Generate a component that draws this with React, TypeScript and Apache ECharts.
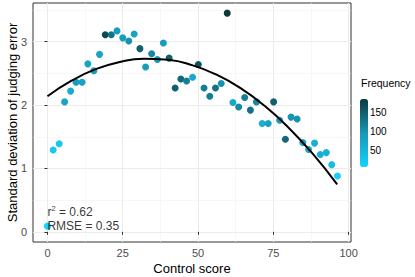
import React, { useEffect, useRef } from "react";
import * as echarts from "echarts";

// Control score (x), SD of judging error (y), frequency (colour)
const controlScore = [0, 1.9, 3.9, 5.7, 7.7, 9.5, 11.5, 13.4, 15.4, 17.3, 19.2, 21.2, 23.1, 25.0, 27.0, 28.8, 30.7, 32.6, 34.6, 36.5, 38.5, 40.4, 42.4, 44.3, 46.2, 48.2, 50.1, 52.0, 53.9, 55.8, 57.7, 59.7, 61.6, 63.5, 65.5, 67.4, 69.4, 71.3, 73.3, 75.1, 77.1, 79.0, 80.9, 82.9, 84.8, 86.7, 88.7, 90.6, 92.6, 94.4, 96.3];
const sdError = [0.09, 1.29, 1.39, 2.05, 2.22, 2.36, 2.36, 2.65, 2.54, 2.80, 3.11, 3.11, 3.17, 3.06, 3.01, 3.12, 2.89, 2.60, 2.81, 2.72, 2.98, 2.74, 2.27, 2.41, 2.38, 2.44, 2.64, 2.27, 2.14, 2.27, 2.34, 3.45, 2.04, 1.97, 2.12, 1.92, 2.05, 1.71, 1.71, 2.05, 1.76, 1.46, 1.81, 1.78, 1.41, 1.30, 1.40, 1.22, 1.25, 1.06, 0.88];
const frequency = [8, 25, 25, 75, 65, 90, 80, 75, 90, 75, 170, 130, 85, 85, 100, 80, 150, 85, 110, 90, 90, 150, 150, 140, 120, 70, 160, 120, 120, 130, 100, 185, 70, 110, 120, 130, 110, 60, 80, 150, 90, 140, 100, 100, 80, 70, 60, 60, 55, 40, 15];

// Fitted curve
const curveX = [0, 8, 16, 24, 32, 40, 48, 56, 64, 72, 80, 88, 96.2];
const curveY = [2.14, 2.385, 2.566, 2.68, 2.73, 2.713, 2.63, 2.483, 2.27, 1.992, 1.647, 1.237, 0.75];

const xTicks = [0, 25, 50, 75, 100];
const xMinor = [12.5, 37.5, 62.5, 87.5];
const yTicks = [0, 1, 2, 3];
const yMinor = [0.5, 1.5, 2.5, 3.5];

const freqMin = 7;
const freqMax = 185;
const legendTicks = [50, 100, 150];

const annotationX = [0, 0];
const annotationY = [0.316, 0.09];
const annotationText = ["r{sup|2} = 0.62", "RMSE = 0.35"];

const FONT = "'Liberation Sans', Arial, Helvetica, sans-serif";

export default function App() {
  const ref = useRef<HTMLDivElement>(null);
  useEffect(() => {
    if (!ref.current) return;
    const chart = echarts.init(ref.current, undefined, { renderer: "svg" });
    const barTop = 99;
    const barH = 68;
    const points = controlScore.map((x, i) => [x, sdError[i], frequency[i]]);
    const curve = curveX.map((x, i) => [x, curveY[i]]);
    const hidden = {
      axisLine: { show: false },
      axisTick: { show: false },
      axisLabel: { show: false },
    };
    chart.setOption({
      animation: false,
      backgroundColor: "#ffffff",
      textStyle: { fontFamily: FONT },
      grid: {
        left: 33,
        top: 3,
        width: 318,
        height: 239,
        containLabel: false,
        outerBoundsMode: "none",
        show: true,
        borderColor: "#333333",
        borderWidth: 1,
        backgroundColor: "#ffffff",
      },
      xAxis: [
        {
          type: "value",
          min: -4.8,
          max: 100.8,
          name: "Control score",
          nameLocation: "middle",
          nameGap: 20,
          nameMoveOverlap: false,
          nameTextStyle: { fontSize: 13, color: "#000", fontFamily: FONT },
          axisLine: { show: false },
          axisTick: { show: true, length: 3, lineStyle: { color: "#333" }, customValues: xTicks },
          axisLabel: { fontSize: 11, color: "#4d4d4d", margin: 5, fontFamily: FONT, customValues: xTicks },
          splitLine: { show: true, lineStyle: { color: "#ebebeb", width: 1 } },
        },
        {
          type: "value",
          min: -4.8,
          max: 100.8,
          position: "top",
          ...hidden,
          axisTick: { show: false, customValues: xMinor },
          splitLine: { show: true, lineStyle: { color: "#f2f2f2", width: 0.6 } },
        },
      ],
      yAxis: [
        {
          type: "value",
          min: -0.16,
          max: 3.61,
          name: "Standard deviation of judging error",
          nameLocation: "middle",
          nameGap: 14,
          nameMoveOverlap: false,
          nameTextStyle: { fontSize: 13, color: "#000", fontFamily: FONT },
          axisLine: { show: false },
          axisTick: { show: true, length: 3, lineStyle: { color: "#333" }, customValues: yTicks },
          axisLabel: { fontSize: 11, color: "#4d4d4d", margin: 6, fontFamily: FONT, customValues: yTicks },
          splitLine: { show: true, lineStyle: { color: "#ebebeb", width: 1 } },
        },
        {
          type: "value",
          min: -0.16,
          max: 3.61,
          position: "right",
          ...hidden,
          axisTick: { show: false, customValues: yMinor },
          splitLine: { show: true, lineStyle: { color: "#f2f2f2", width: 0.6 } },
        },
      ],
      visualMap: {
        type: "continuous",
        seriesIndex: 0,
        dimension: 2,
        min: freqMin,
        max: freqMax,
        orient: "vertical",
        left: 360,
        top: barTop,
        itemWidth: 8,
        itemHeight: barH,
        padding: 0,
        text: null,
        calculable: false,
        showLabel: false,
        inRange: { color: ["#16d3fc", "#1797b5", "#0a3a3e"] },
      },
      graphic: [
        {
          type: "text",
          left: 361,
          top: 77,
          style: { text: "Frequency", fontSize: 10.5, fill: "#000", fontFamily: FONT },
        },
        ...legendTicks.map((v) => ({
          type: "text",
          x: 370,
          y: barTop + ((freqMax - v) / (freqMax - freqMin)) * barH,
          style: {
            text: String(v),
            fontSize: 10,
            fill: "#000",
            fontFamily: FONT,
            verticalAlign: "middle",
            align: "left",
          },
        })),
      ],
      series: [
        {
          type: "scatter",
          data: points,
          symbolSize: 7,
          itemStyle: { opacity: 1 },
          z: 2,
        },
        {
          type: "line",
          data: curve,
          smooth: true,
          showSymbol: false,
          symbol: "none",
          lineStyle: { color: "#000", width: 2 },
          z: 3,
        },
        {
          type: "scatter",
          symbolSize: 0,
          z: 4,
          data: annotationX.map((x, i) => ({
            value: [x, annotationY[i]],
            label: { formatter: annotationText[i] },
          })),
          label: {
            show: true,
            position: [0, 0],
            align: "left",
            verticalAlign: "middle",
            fontSize: 12,
            color: "#000",
            fontFamily: FONT,
            lineHeight: 14,
            rich: {
              sup: { fontSize: 7.5, verticalAlign: "top", lineHeight: 9, color: "#000", fontFamily: FONT },
            },
          },
        },
      ],
    });
    return () => chart.dispose();
  }, []);
  return (
    <div
      ref={ref}
      style={{ position: "absolute", left: 0, top: 0, width: 415, height: 277 }}
    />
  );
}
